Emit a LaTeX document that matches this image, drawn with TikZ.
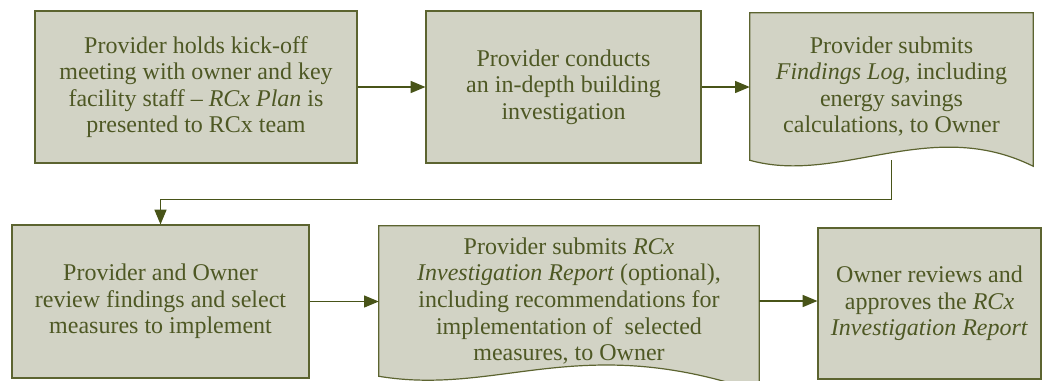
\documentclass[tikz,border=0pt]{standalone}
\usepackage{fontspec}
\setmainfont{Liberation Serif}
\usetikzlibrary{arrows.meta,backgrounds}
\definecolor{rcxfill}{RGB}{210,211,197}
\definecolor{rcxline}{RGB}{92,100,48}
\definecolor{rcxtext}{RGB}{78,88,36}
\definecolor{rcxarrow}{RGB}{72,84,24}
\tikzset{
  stagetext/.style={text=rcxtext,align=center,inner sep=0pt,font=\fontsize{18}{19.9}\selectfont},
  stagebox/.style={stagetext,draw=rcxline,fill=rcxfill,line width=0.9pt},
  docshape/.style={draw=rcxline,fill=rcxfill,line width=0.9pt},
  flow/.style={draw=rcxarrow,line width=0.9pt,-{Triangle[length=11pt,width=9pt]}}
}
\begin{document}
\begin{tikzpicture}[x=0.75pt,y=-0.75pt]
\useasboundingbox (0,0) rectangle (1042,380);

% first row
\node[stagebox,minimum width=241.5pt,minimum height=114pt] (kickoff) at (196,87)
  {Provider holds kick-off\\ meeting with owner and key\\ facility staff -- \textit{RCx Plan} is\\ presented to RCx team};
\node[stagebox,minimum width=206.25pt,minimum height=114pt] (investigate) at (563.5,87)
  {Provider conducts\\ an in-depth building\\ investigation};
\node[stagetext,minimum width=212.25pt,minimum height=110.25pt] (findings) at (891.5,86.5)
  {Provider submits\\ \textit{Findings Log}, including\\ energy savings\\ calculations, to Owner};

% second row
\node[stagebox,minimum width=222.75pt,minimum height=114.75pt] (review) at (160.5,301.5)
  {Provider and Owner\\ review findings and select\\ measures to implement};
\node[stagetext,minimum width=285pt,minimum height=112.5pt] (report) at (569,301)
  {Provider submits \textit{RCx}\\ \textit{Investigation Report} (optional),\\ including recommendations for\\ implementation of\ \ selected\\ measures, to Owner};
\node[stagebox,minimum width=167.25pt,minimum height=113.25pt] (approve) at (929.5,303.5)
  {Owner reviews and\\ approves the \textit{RCx}\\ \textit{Investigation Report}};

% document outlines
\begin{scope}[on background layer]
\draw[docshape] (findings.south west) -- (findings.north west) -- (findings.north east)
  -- ([shift={(0,6)}]findings.south east) .. controls +(-103,-51) and +(90,25) .. (findings.south west) -- cycle;
\draw[docshape] (report.south west) -- (report.north west) -- (report.north east)
  -- ([shift={(0,16)}]report.south east) .. controls +(-179,-62) and +(121,20) .. (report.south west) -- cycle;
\end{scope}

% connectors
\draw[flow] (kickoff.east) -- (kickoff.east -| investigate.west);
\draw[flow] (investigate.east) -- (investigate.east -| findings.west);
\draw[flow] (findings.south) -- ++(0,39) -| (review.north);
\draw[flow] (review.east) -- (review.east -| report.west);
\draw[flow] (report.east) -- (report.east -| approve.west);

\end{tikzpicture}
\end{document}
